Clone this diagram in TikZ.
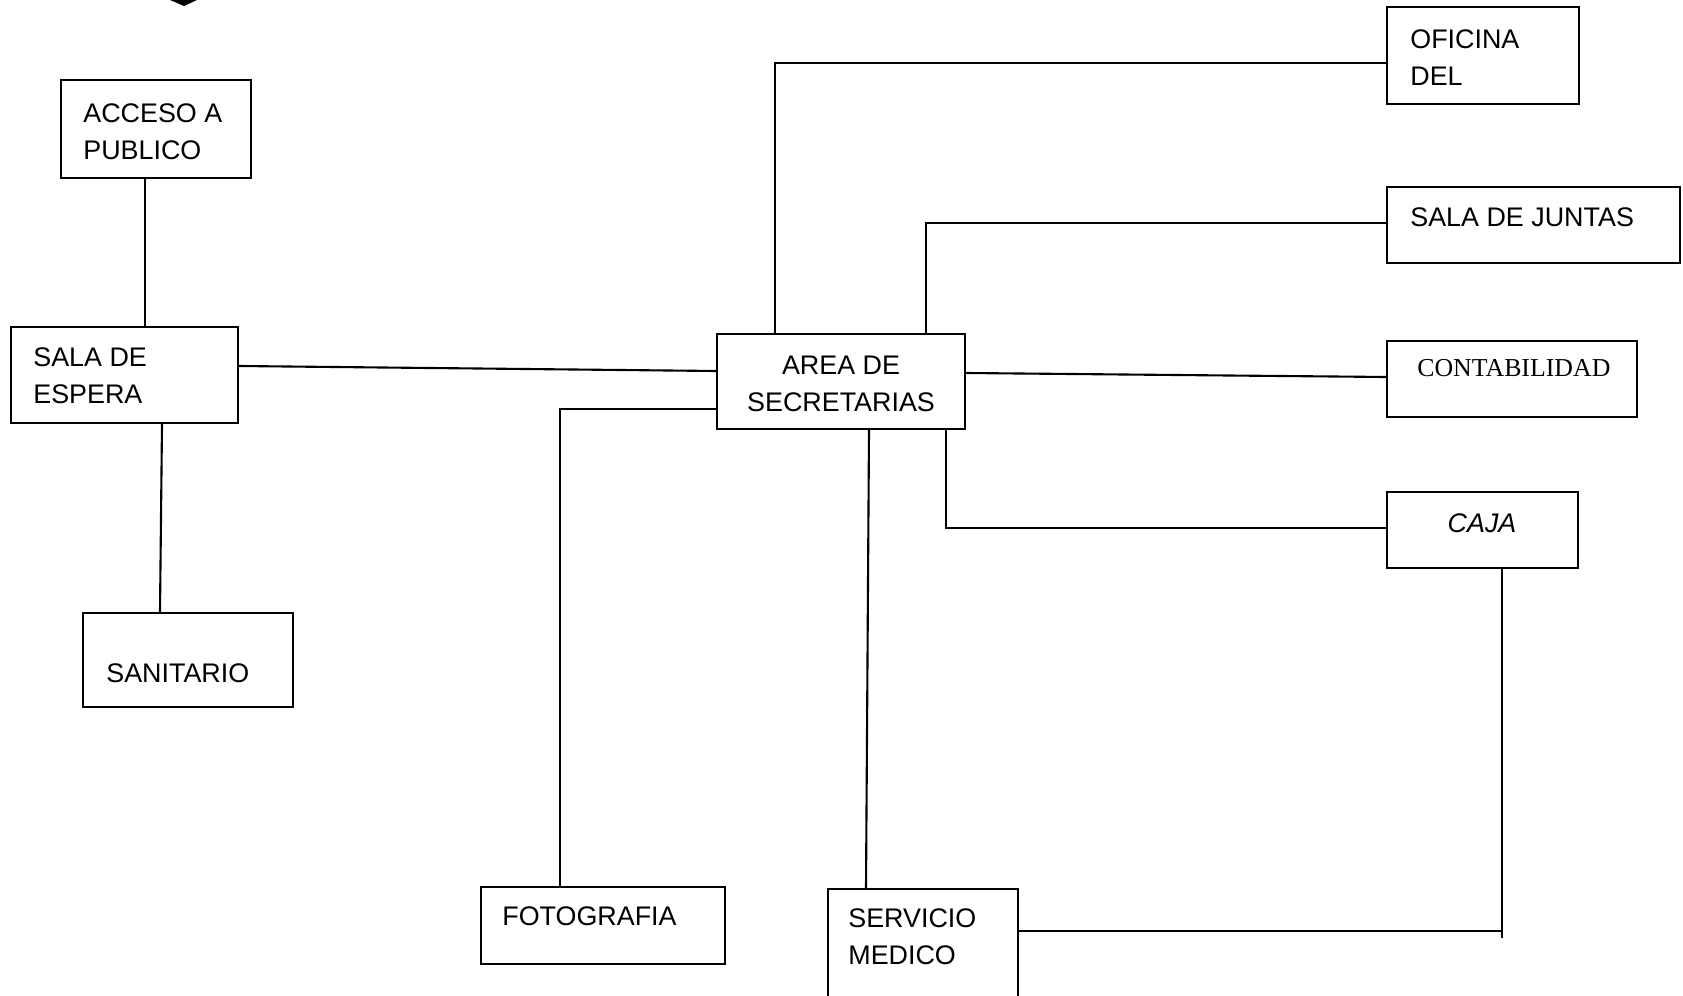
\documentclass[tikz,border=0pt]{standalone}
\usepackage{fontspec}
\setmainfont{Liberation Sans}
\newfontfamily\timesf{Liberation Serif}
\begin{document}
\begin{tikzpicture}[x=0.02cm,y=-0.02cm,
  box/.style={draw,line width=1.4pt,rectangle,inner sep=0pt},
  lbl/.style={inner sep=0pt,align=left,font=\fontsize{15.3}{21}\selectfont},
  conn/.style={line width=1.2pt}]
\useasboundingbox (0,0) rectangle (1683,996);
\clip (0,0) rectangle (1683,996);
% boxes
\node[box,minimum width=190*0.02cm,minimum height=98*0.02cm] (acc) at (156,129) {};
\node[box,minimum width=227*0.02cm,minimum height=96*0.02cm] (esp) at (124.5,375) {};
\node[box,minimum width=210*0.02cm,minimum height=94*0.02cm] (san) at (188,660) {};
\node[box,minimum width=248*0.02cm,minimum height=95*0.02cm] (area) at (841,381.5) {};
\node[box,minimum width=192*0.02cm,minimum height=97*0.02cm] (ofi) at (1483,55.5) {};
\node[box,minimum width=293*0.02cm,minimum height=76*0.02cm] (jun) at (1533.5,225) {};
\node[box,minimum width=250*0.02cm,minimum height=76*0.02cm] (con) at (1512,379) {};
\node[box,minimum width=191*0.02cm,minimum height=76*0.02cm] (caja) at (1482.5,530) {};
\node[box,minimum width=244*0.02cm,minimum height=77*0.02cm] (foto) at (603,925.5) {};
\node[box,minimum width=190*0.02cm,minimum height=124*0.02cm] (serv) at (923,951) {};
% texts
\node[lbl,anchor=west] (accT) at (83,131.5) {ACCESO A\\PUBLICO};
\node[lbl,anchor=west] (espT) at (33,375.5) {SALA DE\\ESPERA};
\node[lbl,anchor=west] (sanT) at (106,673) {SANITARIO};
\node[lbl,align=center] (areaT) at (841,383.5) {AREA DE\\SECRETARIAS};
\node[lbl,anchor=west] (ofiT) at (1410,57.5) {OFICINA\\DEL};
\node[lbl,anchor=west] (junT) at (1410,217) {SALA DE JUNTAS};
\node[lbl,anchor=west,font=\timesf\fontsize{14.7}{18}\selectfont] (conT) at (1417,368) {CONTABILIDAD};
\node[lbl,font=\itshape\fontsize{15.3}{21}\selectfont] (cajaT) at (1482,523) {CAJA};
\node[lbl,anchor=west] (fotoT) at (502,916) {FOTOGRAFIA};
\node[lbl,anchor=west] (servT) at (848,937) {SERVICIO\\MEDICO};
% top fragment
\fill (170,0) -- (197,0) -- (184,6) -- cycle;
% connectors
\draw[conn] (145,0 |- acc.south) -- (145,0 |- esp.north);
\draw[conn] (162,0 |- esp.south) -- (160,0 |- san.north);
\draw[conn] (esp.east |- 0,366) -- (area.west |- 0,371);
\draw[conn] (775,0 |- area.north) |- (ofi.west |- 0,63);
\draw[conn] (926,0 |- area.north) |- (jun.west |- 0,223);
\draw[conn] (area.east |- 0,373) -- (con.west |- 0,377);
\draw[conn] (946,0 |- area.south) |- (caja.west |- 0,528);
\draw[conn] (869,0 |- area.south) -- (866,0 |- serv.north);
\draw[conn] (area.west |- 0,409) -| (560,0 |- foto.north);
\coordinate (cjend) at (1502,938);
\draw[conn] (1502,0 |- caja.south) -- (cjend);
\draw[conn] (serv.east |- 0,931) -- (1502,931);
\end{tikzpicture}
\end{document}
